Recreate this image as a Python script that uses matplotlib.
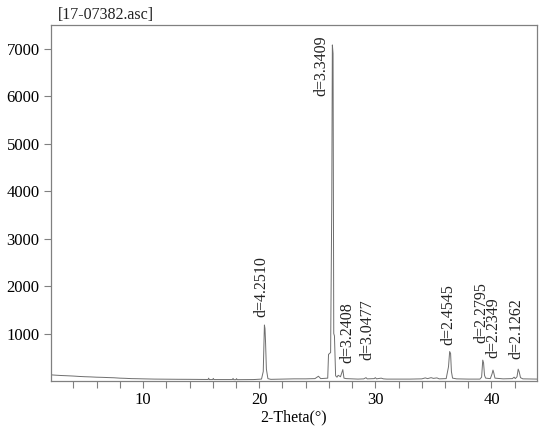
import matplotlib
matplotlib.use('Agg')
import matplotlib.pyplot as plt
from matplotlib.ticker import MultipleLocator

plt.rcParams['font.family'] = ['Liberation Serif', 'DejaVu Serif']

# scan: (2-theta, counts)
two_theta = [2.05, 2.5, 3.0, 3.5, 4.0, 4.5, 5.0, 5.5, 6.0, 6.5, 7.0, 7.5, 8.0, 8.5,
             9.0, 9.5, 10.0, 11.0, 12.0, 13.0, 14.0, 15.0, 15.6, 15.65, 15.7, 16.0,
             16.05, 16.1, 17.7, 17.75, 17.8, 18.0, 18.05, 18.1, 19.5, 20.2, 20.35,
             20.45, 20.5, 20.55, 20.62, 20.75, 21.0, 22.0, 23.0, 24.0, 24.8, 25.1,
             25.3, 25.9, 25.97, 26.15, 26.25, 26.3, 26.36, 26.42, 26.48, 26.58,
             26.7, 26.8, 27.0, 27.2, 27.3, 27.5, 28.0, 28.5, 29.0, 29.2, 29.3, 29.9,
             30.0, 30.1, 30.5, 30.7, 31.0, 32.0, 33.0, 34.0, 34.3, 34.5, 34.8, 35.0,
             35.3, 35.5, 36.1, 36.3, 36.4, 36.48, 36.55, 36.65, 37.0, 38.0, 39.0,
             39.15, 39.25, 39.32, 39.4, 39.5, 39.9, 40.05, 40.13, 40.2, 40.3, 41.0,
             41.8, 41.95, 42.05, 42.2, 42.3, 42.38, 42.5, 42.7, 43.95]
counts = [130, 122, 115, 110, 104, 96, 90, 86, 80, 77, 72, 68, 60, 56,
          50, 48, 45, 40, 38, 36, 35, 33, 32, 60, 30, 30,
          55, 30, 30, 55, 28, 28, 50, 28, 30, 40, 200,
          1180, 1100, 800, 250, 50, 35, 40, 45, 45, 50, 100,
          50, 60, 560, 600, 3800, 7080, 6900, 1000, 950, 110,
          80, 120, 90, 240, 60, 50, 45, 40, 45, 70, 45, 50,
          70, 45, 60, 45, 40, 40, 40, 45, 65, 50, 70, 55,
          65, 45, 50, 300, 620, 580, 200, 60, 45, 40, 40,
          80, 440, 380, 120, 60, 50, 150, 230, 170, 60, 45,
          50, 80, 50, 90, 250, 200, 70, 45, 40]

peak_pos = [20.45, 26.3, 27.2, 29.2, 36.4, 39.25, 40.13, 42.3]
peak_cts = [1180, 7080, 240, 70, 620, 440, 230, 250]
peak_lbl = ['d=4.2510', 'd=3.3409', 'd=3.2408', 'd=3.0477',
            'd=2.4545', 'd=2.2795', 'd=2.2349', 'd=2.1262']
# label offsets in points (dx, dy)
lbl_off = [(-2, 6), (-8, 7), (3, 5), (1, 13), (-1, 5), (-1, 12), (0, 9), (-1, 7)]

grey = '#808080'

fig = plt.figure(figsize=(5.5, 4.29), dpi=100)
ax = fig.add_axes([0.0922, 0.1119, 0.977 - 0.0922, 0.9417 - 0.1119])
ax.plot(two_theta, counts, color='#6e6e6e', lw=0.7)

ax.set_xlim(2.05, 43.95)
ax.set_ylim(0, 7500)
ax.xaxis.set_major_locator(MultipleLocator(10))
ax.xaxis.set_minor_locator(MultipleLocator(2))
ax.set_yticks([1000, 2000, 3000, 4000, 5000, 6000, 7000])
ax.tick_params(which='both', direction='out', length=5, width=0.8, color=grey,
               labelsize=12, pad=3)
for s in ax.spines.values():
    s.set_color(grey)
    s.set_linewidth(0.9)

for x, y, t, (dx, dy) in zip(peak_pos, peak_cts, peak_lbl, lbl_off):
    va = 'top' if y > 5000 else 'bottom'
    ax.annotate(t, xy=(x, y), xytext=(dx, dy), textcoords='offset points',
                rotation=90, ha='center', va=va, fontsize=11.5, color='#222222')

ax.set_xlabel('2-Theta(°)', fontsize=11.5, labelpad=1)
fig.text(58 / 550, 1 - 15 / 429, '[17-07382.asc]', fontsize=11.5,
         ha='left', va='center', color='#222222')

fig.savefig('out.png', dpi=100)
